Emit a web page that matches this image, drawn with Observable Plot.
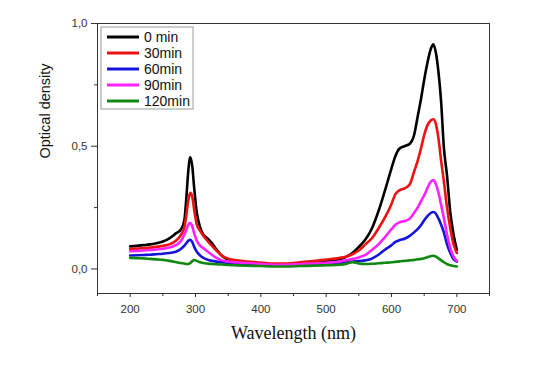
<!DOCTYPE html>
<html>
<head>
<meta charset="utf-8">
<script src="https://cdn.jsdelivr.net/npm/d3@7"></script>
<script src="https://cdn.jsdelivr.net/npm/@observablehq/plot@0.6"></script>
<style>
  html, body { margin: 0; padding: 0; background: #fff; }
  #chart { position: relative; width: 538px; height: 372px; }
</style>
</head>
<body>
<div id="chart"></div>
<script>
const seriesNames = ["0 min", "30min", "60min", "90min", "120min"];
const seriesColors = ["#000000", "#ee1111", "#1414dd", "#ff22ff", "#118811"];

const wavelengths = [200,210,220,230,240,250,260,270,278,283,286,289,292,295,298,302,307,312,318,325,332,340,350,360,380,400,420,440,460,480,500,520,530,540,550,560,570,580,590,600,606,612,620,628,635,640,645,650,655,660,664,668,672,676,680,685,690,695,700];

const od0 = [.092,.094,.097,.100,.105,.112,.125,.145,.162,.20,.29,.40,.455,.42,.33,.23,.17,.14,.125,.105,.08,.055,.038,.03,.025,.022,.018,.018,.022,.027,.033,.04,.048,.065,.09,.12,.165,.235,.32,.41,.46,.49,.50,.51,.55,.62,.69,.77,.84,.895,.915,.88,.80,.68,.50,.38,.23,.14,.078];
const od30 = [.082,.083,.085,.087,.09,.094,.10,.115,.14,.17,.22,.28,.31,.295,.24,.18,.155,.135,.115,.095,.075,.055,.042,.036,.03,.026,.022,.022,.027,.032,.038,.045,.05,.06,.075,.10,.125,.165,.21,.265,.305,.32,.328,.345,.40,.44,.49,.545,.585,.605,.61,.59,.53,.44,.36,.25,.165,.10,.065];
const od60 = [.055,.056,.057,.058,.06,.062,.065,.07,.082,.095,.105,.115,.119,.11,.09,.07,.055,.045,.038,.033,.03,.028,.025,.023,.021,.018,.015,.015,.017,.02,.022,.025,.027,.03,.032,.035,.042,.058,.078,.097,.11,.117,.123,.135,.15,.162,.178,.198,.215,.228,.232,.225,.205,.18,.15,.10,.065,.04,.03];
const od90 = [.072,.073,.075,.077,.079,.082,.087,.097,.115,.14,.16,.18,.187,.175,.145,.115,.095,.085,.072,.058,.045,.035,.03,.027,.024,.02,.017,.017,.02,.022,.025,.03,.035,.04,.047,.057,.077,.10,.13,.162,.18,.19,.195,.205,.23,.25,.275,.30,.33,.355,.362,.345,.31,.26,.21,.14,.085,.05,.032];
const od120 = [.045,.044,.043,.041,.039,.037,.033,.028,.024,.022,.02,.02,.024,.032,.036,.033,.027,.024,.022,.02,.019,.018,.016,.015,.013,.012,.01,.01,.012,.013,.015,.017,.02,.028,.022,.02,.021,.023,.025,.027,.029,.031,.033,.035,.037,.039,.041,.044,.048,.052,.054,.05,.043,.035,.028,.02,.015,.012,.01];

const xMajorTicks = [200,300,400,500,600,700];
const xMinorTicks = [150,250,350,450,550,650,750];
const yMajorTicks = [0, 0.5, 1.0];
const yMinorTicks = [0.25, 0.75];

const seriesValues = [od0, od30, od60, od90, od120];
const data = seriesNames.flatMap((name, k) =>
  wavelengths.map((w, i) => ({ w, v: seriesValues[k][i], name })));

const fmt = d => d.toFixed(1).replace(".", ",");

const svg = Plot.plot({
  width: 538,
  height: 372,
  marginLeft: 97,
  marginRight: 49,
  marginTop: 23,
  marginBottom: 79,
  x: { domain: [150, 750] },
  y: { domain: [-0.1, 1.0] },
  color: { domain: seriesNames, range: seriesColors },
  style: { fontFamily: "'Liberation Sans', Arial, sans-serif", fontSize: "11.5px", color: "#333", background: "#fff" },
  marks: [
    Plot.axisX({ ticks: xMajorTicks, tickSize: 4, tickPadding: 7, tickFormat: d => String(d), label: null, stroke: "#333" }),
    Plot.axisX({ ticks: xMinorTicks, tickSize: 3, tickFormat: () => "", label: null, stroke: "#333" }),
    Plot.axisY({ ticks: yMajorTicks, tickSize: 6, tickPadding: 4, tickFormat: fmt, label: null, stroke: "#333" }),
    Plot.axisY({ ticks: yMinorTicks, tickSize: 3, tickFormat: () => "", label: null, stroke: "#333" }),
    Plot.line(data, { x: "w", y: "v", z: "name", stroke: "name", strokeWidth: 2.6, curve: "monotone-x" }),
    Plot.frame({ stroke: "#333", strokeWidth: 1 }),
    Plot.text(["Optical density"], { frameAnchor: "left", dx: -52, rotate: -90, fontSize: 14.5, fill: "#111" }),
    Plot.text(["Wavelength (nm)"], { frameAnchor: "bottom", dy: 45, fontSize: 18, fontFamily: "'Liberation Serif', 'Times New Roman', serif", fill: "#111" })
  ]
});

document.getElementById("chart").appendChild(svg);

// legend inside the frame (top-left)
const lg = d3.select(svg).append("g").attr("transform", "translate(101,27)");
lg.append("rect").attr("width", 92).attr("height", 82)
  .attr("fill", "#fff").attr("stroke", "#999").attr("stroke-width", 1);
seriesNames.forEach((name, k) => {
  const y = 10 + k * 16;
  lg.append("line").attr("x1", 6).attr("x2", 38).attr("y1", y).attr("y2", y)
    .attr("stroke", seriesColors[k]).attr("stroke-width", 3);
  lg.append("text").attr("x", 43).attr("y", y).attr("dy", "0.35em")
    .attr("text-anchor", "start")
    .attr("font-family", "'Liberation Sans', Arial, sans-serif").attr("font-size", 14)
    .attr("fill", "#111").text(name);
});
</script>
</body>
</html>
